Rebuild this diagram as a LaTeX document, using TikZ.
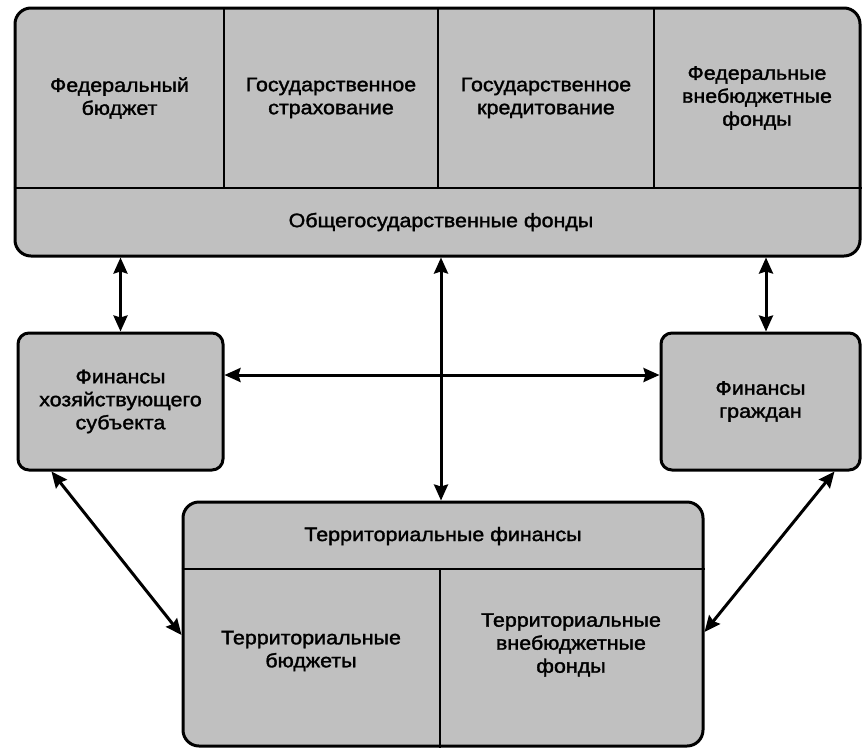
\documentclass[tikz,border=0pt]{standalone}
\usepackage{fontspec}
\setmainfont{Liberation Sans}[FakeStretch=1.1,FakeBold=1.6]
\usetikzlibrary{arrows.meta,calc}
\definecolor{boxgray}{RGB}{192,192,192}
\begin{document}
\begin{tikzpicture}[x=1pt,y=-1pt,
  box/.style={draw=black, line width=3pt, fill=boxgray, inner sep=0pt,
    align=center, font=\fontsize{19.5}{23}\selectfont},
  lbl/.style={align=center, inner sep=0pt, font=\fontsize{19.5}{23}\selectfont},
  sep/.style={line width=2.8pt},
  link/.style={line width=3pt,
    {Stealth[length=16pt,width=14pt,inset=2pt]}-{Stealth[length=16pt,width=14pt,inset=2pt]}}]
\useasboundingbox (0,0) rectangle (862,748);

% national funds block
\node[box, rounded corners=16pt, minimum width=845pt, minimum height=248pt] (gov) at (437.5,132) {};
\coordinate (hd) at (0,188);
\draw[sep] (gov.west |- hd) -- (gov.east |- hd);
\coordinate (d1) at (224,188);
\coordinate (d2) at (438,188);
\coordinate (d3) at (654,188);
\draw[sep] (d1) -- (d1 |- gov.north);
\draw[sep] (d2) -- (d2 |- gov.north);
\draw[sep] (d3) -- (d3 |- gov.north);
\node[lbl] (fb) at (119.5,98) {Федеральный\\бюджет};
\node[lbl] (gs) at (331,98) {Государственное\\страхование};
\node[lbl] (gk) at (546,98) {Государственное\\кредитование};
\node[lbl] (vf) at (757,98) {Федеральные\\внебюджетные\\фонды};
\node[lbl] (og) at (441,222) {Общегосударственные фонды};

% enterprise and household finance
\node[box, rounded corners=11pt, minimum width=205pt, minimum height=137pt] (ent) at (120.5,401.5)
  {Финансы\\хозяйствующего\\субъекта};
\node[box, rounded corners=11pt, minimum width=199pt, minimum height=137pt] (cit) at (760.5,401.5)
  {Финансы\\граждан};

% territorial finance block
\node[box, rounded corners=16pt, minimum width=520pt, minimum height=244pt] (terr) at (443,624) {};
\coordinate (hd2) at (0,569);
\draw[sep] (terr.west |- hd2) -- (terr.east |- hd2);
\coordinate (d4) at (440,569);
\draw[sep] (d4) -- (d4 |- terr.south);
\node[lbl] (tf) at (443,536) {Территориальные финансы};
\node[lbl] (tb) at (311,651) {Территориальные\\бюджеты};
\node[lbl] (tv) at (571,645) {Территориальные\\внебюджетные\\фонды};

% links
\coordinate (cx) at (441,0);
\coordinate (rx) at (766,0);
\coordinate (hy) at (0,375);
\draw[link] (ent.north) -- (ent.north |- gov.south);
\draw[link] (rx |- cit.north) -- (rx |- gov.south);
\draw[link] (cx |- terr.north) -- (cx |- gov.south);
\draw[link] (ent.east |- hy) -- (cit.west |- hy);
\draw[link] ($(ent.south west)+(35,0)$) -- ($(terr.west)+(0,11)$);
\draw[link] ($(cit.south east)+(-27,0)$) -- ($(terr.east)+(0,8)$);
\end{tikzpicture}
\end{document}
